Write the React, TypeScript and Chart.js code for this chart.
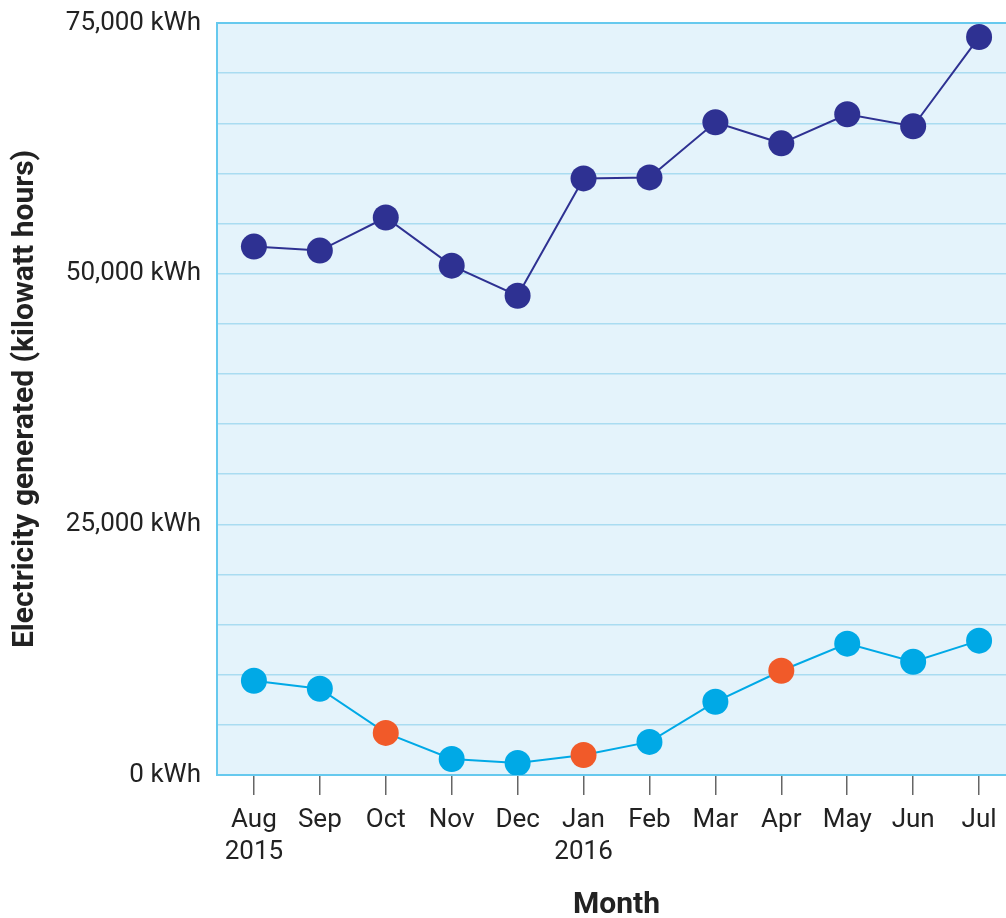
import React, { useEffect, useRef } from 'react';
import { Chart, registerables } from 'chart.js';

Chart.register(...registerables);

const months = ['Aug', 'Sep', 'Oct', 'Nov', 'Dec', 'Jan', 'Feb', 'Mar', 'Apr', 'May', 'Jun', 'Jul'];
const yearLabels = ['2015', '', '', '', '', '2016', '', '', '', '', '', ''];
const totalGenerated = [52700, 52300, 55600, 50800, 47800, 59500, 59600, 65100, 63000, 65900, 64700, 73600];
const siteGenerated = [9400, 8600, 4200, 1600, 1200, 2000, 3300, 7300, 10400, 13100, 11300, 13400];
const highlighted = [false, false, true, false, false, true, false, false, true, false, false, false];
const yLabelValues = [0, 25000, 50000, 75000];

const NAVY = '#2e3192';
const CYAN = '#00a9e6';
const ORANGE = '#f15a29';
const PLOT_BG = '#e4f3fb';
const GRID = '#a9dcf1';
const BORDER = '#66c9ee';
const TEXT = '#222222';

const bgPlugin = {
  id: 'plotBg',
  beforeDraw(chart: any) {
    const { ctx, chartArea } = chart;
    if (!chartArea) return;
    ctx.save();
    ctx.fillStyle = PLOT_BG;
    ctx.fillRect(chartArea.left, chartArea.top, chartArea.right - chartArea.left, chartArea.bottom - chartArea.top);
    ctx.restore();
  },
};

export default function App() {
  const ref = useRef<HTMLCanvasElement | null>(null);

  useEffect(() => {
    if (!ref.current) return;
    const chart = new Chart(ref.current, {
      type: 'line',
      data: {
        datasets: [
          {
            data: totalGenerated.map((v, i) => ({ x: i, y: v })),
            borderColor: NAVY,
            backgroundColor: NAVY,
            pointBackgroundColor: NAVY,
            pointBorderWidth: 0,
            pointRadius: 13,
            borderWidth: 2,
            tension: 0,
          },
          {
            data: siteGenerated.map((v, i) => ({ x: i, y: v })),
            borderColor: CYAN,
            backgroundColor: CYAN,
            pointBackgroundColor: highlighted.map((h) => (h ? ORANGE : CYAN)),
            pointBorderWidth: 0,
            pointRadius: 13,
            borderWidth: 2,
            tension: 0,
          },
        ],
      },
      options: {
        animation: false,
        responsive: false,
        layout: { padding: { top: 23, left: 0, right: 0, bottom: 0 } },
        plugins: { legend: { display: false }, tooltip: { enabled: false } },
        events: [],
        scales: {
          x: {
            type: 'linear',
            min: -0.56,
            max: 11.56,
            afterBuildTicks: (scale: any) => {
              scale.ticks = months.map((_, i) => ({ value: i }));
            },
            afterFit: (scale: any) => {
              scale.height = 143;
              scale.paddingLeft = 0;
              scale.paddingRight = 0;
            },
            grid: {
              drawOnChartArea: false,
              drawTicks: true,
              tickLength: 20,
              tickColor: '#666666',
              lineWidth: 1.5,
            },
            border: { color: BORDER, width: 2 },
            ticks: {
              autoSkip: false,
              maxRotation: 0,
              minRotation: 0,
              padding: 9,
              color: TEXT,
              font: { family: 'Roboto', size: 26, lineHeight: 1.25 },
              callback: (v: any) => {
                const i = Number(v);
                return yearLabels[i] ? [months[i], yearLabels[i]] : months[i];
              },
            },
            title: {
              display: true,
              text: 'Month',
              color: TEXT,
              font: { family: 'Roboto', size: 30, weight: 'bold', lineHeight: 0.85 },
              padding: { top: 0, bottom: 0 },
            },
          },
          y: {
            min: 0,
            max: 75000,
            afterFit: (scale: any) => {
              scale.width = 217;
              scale.paddingTop = 0;
              scale.paddingBottom = 0;
            },
            grid: {
              drawTicks: false,
              color: (ctx: any) => (ctx.tick && ctx.tick.value === 75000 ? BORDER : GRID),
              lineWidth: (ctx: any) => (ctx.tick && ctx.tick.value === 75000 ? 2 : 1.5),
            },
            border: { color: BORDER, width: 2 },
            ticks: {
              stepSize: 5000,
              padding: 16,
              color: TEXT,
              font: { family: 'Roboto', size: 26 },
              callback: (v: any) =>
                yLabelValues.includes(Number(v)) ? Number(v).toLocaleString('en-US') + ' kWh' : '',
            },
            title: {
              display: true,
              text: 'Electricity generated (kilowatt hours)',
              color: TEXT,
              font: { family: 'Roboto', size: 30, weight: 'bold', lineHeight: 1.2 },
              padding: { top: 7, bottom: 0 },
            },
          },
        },
      },
      plugins: [bgPlugin],
    } as any);
    return () => chart.destroy();
  }, []);

  return (
    <div style={{ position: 'fixed', left: 0, top: 0, width: 1006, height: 918, overflow: 'hidden', background: '#fff' }}>
      <canvas ref={ref} width={1029} height={918} style={{ width: 1029, height: 918, display: 'block' }} />
    </div>
  );
}
